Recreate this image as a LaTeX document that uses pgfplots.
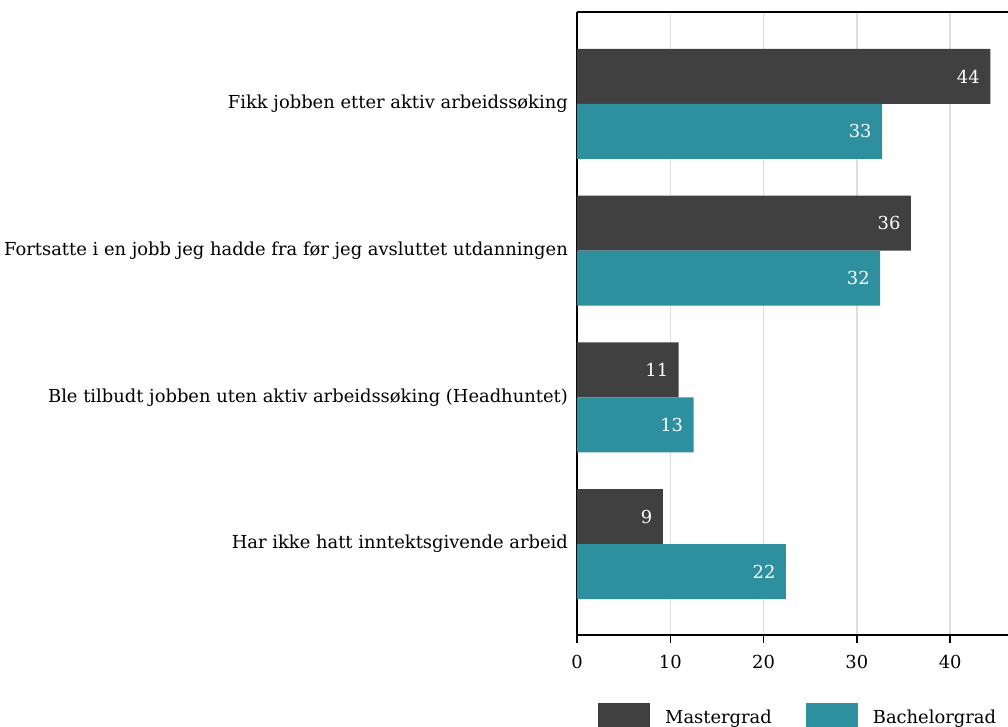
\documentclass[border=0pt]{standalone}
\usepackage{fontspec}
\setmainfont{DejaVu Serif}
\usepackage{pgfplots}
\pgfplotsset{compat=1.18}
\definecolor{master}{RGB}{64,64,64}
\definecolor{bachelor}{RGB}{46,143,159}
\definecolor{gridgray}{RGB}{222,222,222}
\newcommand{\chartfont}{\fontsize{17.9}{21}\selectfont}

\begin{document}
\begin{tikzpicture}
\begin{axis}[
    at={(0,0)}, anchor=south west,
    scale only axis,
    width=431pt, height=623pt,
    xbar, bar width=55pt,
    xmin=0, xmax=46.2,
    ymin=-0.62, ymax=3.627,
    axis x line*=box, axis y line*=left,
    axis line style={line width=2pt, black},
    xtick={0,10,20,30,40},
    ytick={0,1,2,3},
    yticklabels={Har ikke hatt inntektsgivende arbeid,
                 Ble tilbudt jobben uten aktiv arbeidssøking (Headhuntet),
                 Fortsatte i en jobb jeg hadde fra før jeg avsluttet utdanningen,
                 Fikk jobben etter aktiv arbeidssøking},
    xtick pos=lower,
    tick align=outside,
    major tick length=8pt,
    xtick style={black, line width=1.5pt},
    ytick style={draw=none},
    xmajorgrids,
    grid style={gridgray, line width=1.5pt},
    /pgf/number format/assume math mode=true,
    tick label style={font=\chartfont},
    yticklabel style={inner sep=0pt, xshift=-1pt},
    xticklabel style={yshift=-9pt},
    nodes near coords,
    point meta=explicit symbolic,
    every node near coord/.append style={anchor=east, text=white, xshift=-7pt, font=\chartfont},
    legend columns=2,
    legend style={draw=none, at={(0.0487,-0.109)}, anchor=north west,
        inner sep=0pt, font=\chartfont,
        nodes={inner sep=0pt},
        column sep=15pt,
        /tikz/every even column/.append style={column sep=34pt}},
    legend image code/.code={\fill[#1] (0pt,-13pt) rectangle (52pt,14pt);},
]
\addplot[fill=master, draw=none, bar shift=27.5pt] coordinates {
    (44.3,3) [44] (35.8,2) [36] (10.9,1) [11] (9.2,0) [9]
};
\addlegendentry{Mastergrad}
\addplot[fill=bachelor, draw=none, bar shift=-27.5pt] coordinates {
    (32.7,3) [33] (32.5,2) [32] (12.5,1) [13] (22.4,0) [22]
};
\addlegendentry{Bachelorgrad}
\end{axis}
\pgfresetboundingbox
\path[use as bounding box] (-577pt,-92pt) rectangle (431pt,635pt);
\end{tikzpicture}
\end{document}
